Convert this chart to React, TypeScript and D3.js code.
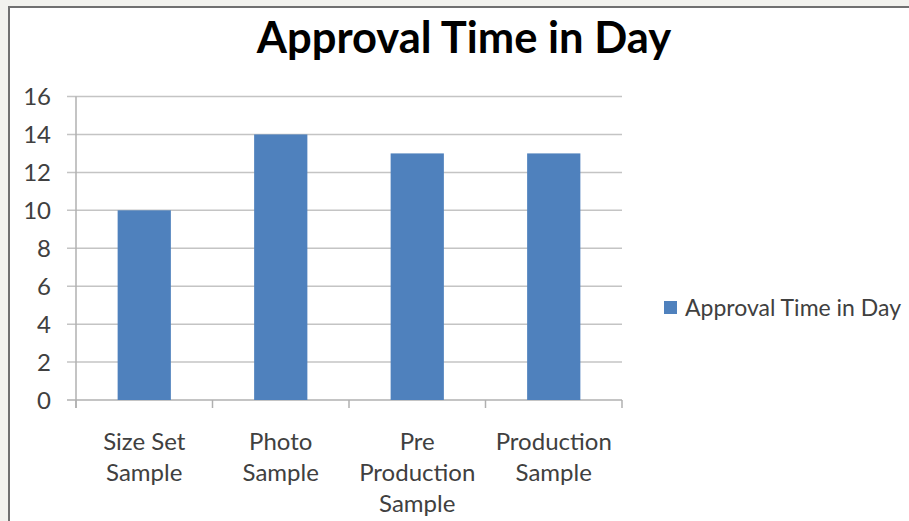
import React from "react";
import * as d3 from "d3";

const categories: string[][] = [
  ["Size Set", "Sample"],
  ["Photo", "Sample"],
  ["Pre", "Production", "Sample"],
  ["Production", "Sample"],
];
const values: number[] = [10, 14, 13, 13];
const yTicks: number[] = [0, 2, 4, 6, 8, 10, 12, 14, 16];
const seriesName = "Approval Time in Day";
const chartTitle = "Approval Time in Day";

const W = 909;
const H = 521;
const plot = { left: 76, right: 622, top: 96.5, bottom: 400 };
const FONT = "Lato, 'Open Sans', sans-serif";

export default function App() {
  const x = d3
    .scaleBand<number>()
    .domain(values.map((_, i) => i))
    .range([plot.left, plot.right])
    .paddingInner(0.61)
    .paddingOuter(0.305);
  const band = d3
    .scaleBand<number>()
    .domain(values.map((_, i) => i))
    .range([plot.left, plot.right]);
  const y = d3.scaleLinear().domain([0, 16]).range([plot.bottom, plot.top]);

  const boundaries = d3.range(values.length + 1).map(
    (i) => plot.left + i * band.step()
  );

  return (
    <svg
      width={W}
      height={H}
      style={{ position: "fixed", left: 0, top: 0, display: "block" }}
      fontFamily={FONT}
    >
      <rect x={0} y={0} width={W} height={H} fill="#f2f2ee" />
      <rect x={9} y={7} width={W + 20} height={H + 20} fill="#ffffff" stroke="#707070" strokeWidth={2} />

      <text
        x={464}
        y={53}
        textAnchor="middle"
        fontSize={43.5}
        fontWeight={700}
        fill="#000"
      >
        {chartTitle}
      </text>

      {/* horizontal gridlines with left tick stubs */}
      {yTicks.map((t) => (
        <g key={t}>
          <line
            x1={plot.left - 9}
            x2={plot.right}
            y1={y(t)}
            y2={y(t)}
            stroke={t === 0 ? "#b0b0b0" : "#c4c4c4"}
            strokeWidth={1.5}
          />
          <text
            x={51}
            y={y(t)}
            dy="0.36em"
            textAnchor="end"
            fontSize={24}
            fill="#404040"
          >
            {t}
          </text>
        </g>
      ))}

      {/* vertical axis */}
      <line x1={plot.left} x2={plot.left} y1={plot.top} y2={plot.bottom + 8} stroke="#b0b0b0" strokeWidth={1.5} />

      {/* category tick marks */}
      {boundaries.map((bx, i) => (
        <line key={i} x1={bx} x2={bx} y1={plot.bottom} y2={plot.bottom + 8} stroke="#b0b0b0" strokeWidth={1.5} />
      ))}

      {values.map((v, i) => (
        <rect
          key={i}
          x={x(i)}
          y={y(v)}
          width={x.bandwidth()}
          height={y(0) - y(v)}
          fill="#4f81bd"
        />
      ))}

      {categories.map((lines, i) => (
        <text
          key={i}
          x={(band(i) as number) + band.bandwidth() / 2}
          y={450}
          textAnchor="middle"
          fontSize={24}
          fill="#404040"
        >
          {lines.map((ln, k) => (
            <tspan key={k} x={(band(i) as number) + band.bandwidth() / 2} dy={k === 0 ? 0 : 31}>
              {ln}
            </tspan>
          ))}
        </text>
      ))}

      {/* legend */}
      <rect x={664} y={301} width={13} height={13} fill="#4f81bd" />
      <text x={685} y={308} dy="0.36em" fontSize={23} fill="#404040">
        {seriesName}
      </text>
    </svg>
  );
}
